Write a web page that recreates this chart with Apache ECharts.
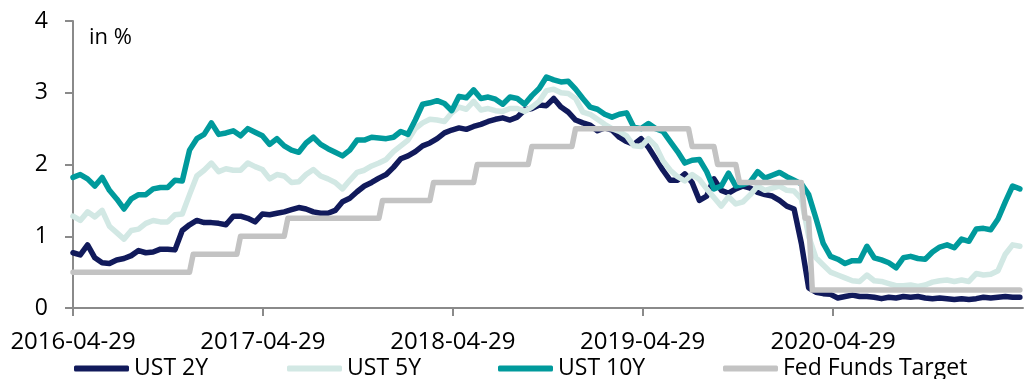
<!DOCTYPE html>
<html>
<head>
<meta charset="utf-8">
<script src="https://cdn.jsdelivr.net/npm/echarts@6/dist/echarts.min.js"></script>
<style>
  html, body { margin: 0; padding: 0; background: #fff; }
  #chart { width: 1025px; height: 379px; }
</style>
</head>
<body>
<div id="chart"></div>
<script>
// US Treasury yields (fortnightly, Fridays) and the Fed funds target upper bound, in %
const seriesNames = ['UST 2Y', 'UST 5Y', 'UST 10Y', 'Fed Funds Target'];
const tickLabels = ['2016-04-29', '2017-04-29', '2018-04-29', '2019-04-29', '2020-04-29'];
const firstDate = '2016-04-29';
const lastDate = '2021-04-29';

const ust2y = [
  0.77, 0.74, 0.88, 0.70, 0.63, 0.62, 0.67, 0.69, 0.73, 0.80,
  0.77, 0.78, 0.82, 0.82, 0.81, 1.08, 1.16, 1.22, 1.19, 1.19,
  1.18, 1.16, 1.28, 1.28, 1.25, 1.20, 1.31, 1.30, 1.32, 1.34,
  1.37, 1.40, 1.38, 1.34, 1.32, 1.32, 1.36, 1.48, 1.53, 1.62,
  1.70, 1.75, 1.81, 1.86, 1.96, 2.08, 2.12, 2.18, 2.26, 2.30,
  2.36, 2.44, 2.48, 2.51, 2.49, 2.53, 2.56, 2.60, 2.63, 2.65,
  2.62, 2.66, 2.76, 2.78, 2.83, 2.82, 2.92, 2.80, 2.73, 2.62,
  2.58, 2.55, 2.47, 2.51, 2.48, 2.38, 2.32, 2.28, 2.36, 2.24,
  2.08, 1.92, 1.78, 1.78, 1.87, 1.75, 1.50, 1.56, 1.80, 1.64,
  1.60, 1.66, 1.70, 1.67, 1.61, 1.58, 1.56, 1.50, 1.42, 1.38,
  0.90, 0.28, 0.22, 0.20, 0.19, 0.14, 0.16, 0.18, 0.16, 0.16,
  0.15, 0.13, 0.15, 0.14, 0.16, 0.15, 0.16, 0.14, 0.13, 0.14,
  0.13, 0.12, 0.13, 0.12, 0.13, 0.15, 0.14, 0.15, 0.16, 0.15,
  0.15
];

const ust5y = [
  1.28, 1.22, 1.34, 1.27, 1.36, 1.14, 1.05, 0.96, 1.08, 1.10,
  1.18, 1.22, 1.20, 1.20, 1.30, 1.31, 1.58, 1.84, 1.92, 2.02,
  1.90, 1.94, 1.92, 1.92, 2.02, 1.97, 1.93, 1.80, 1.86, 1.84,
  1.75, 1.76, 1.86, 1.93, 1.84, 1.80, 1.75, 1.66, 1.78, 1.89,
  1.92, 1.98, 2.02, 2.07, 2.18, 2.26, 2.34, 2.50, 2.58, 2.63,
  2.62, 2.60, 2.72, 2.80, 2.77, 2.88, 2.76, 2.78, 2.75, 2.74,
  2.78, 2.78, 2.74, 2.80, 2.88, 3.03, 3.05, 3.00, 2.99, 2.92,
  2.73, 2.70, 2.63, 2.56, 2.50, 2.46, 2.40, 2.26, 2.25, 2.36,
  2.26, 2.05, 1.92, 1.83, 1.77, 1.86, 1.79, 1.66, 1.54, 1.42,
  1.55, 1.45, 1.48, 1.58, 1.70, 1.64, 1.67, 1.70, 1.64, 1.63,
  1.52, 1.00, 0.70, 0.60, 0.50, 0.46, 0.42, 0.38, 0.37, 0.46,
  0.38, 0.37, 0.34, 0.31, 0.31, 0.32, 0.30, 0.32, 0.36, 0.38,
  0.39, 0.37, 0.39, 0.37, 0.48, 0.46, 0.47, 0.52, 0.75, 0.88,
  0.86
];

const ust10y = [
  1.82, 1.86, 1.80, 1.70, 1.82, 1.64, 1.52, 1.38, 1.52, 1.58,
  1.58, 1.66, 1.68, 1.68, 1.78, 1.77, 2.20, 2.36, 2.42, 2.58,
  2.42, 2.44, 2.47, 2.40, 2.50, 2.45, 2.40, 2.28, 2.36, 2.26,
  2.20, 2.17, 2.30, 2.38, 2.28, 2.22, 2.17, 2.12, 2.20, 2.34,
  2.34, 2.38, 2.37, 2.36, 2.38, 2.46, 2.42, 2.62, 2.84, 2.86,
  2.89, 2.85, 2.75, 2.95, 2.93, 3.04, 2.92, 2.94, 2.91, 2.84,
  2.94, 2.92, 2.84, 2.96, 3.06, 3.22, 3.18, 3.15, 3.16, 3.05,
  2.92, 2.80, 2.77, 2.70, 2.66, 2.70, 2.72, 2.52, 2.50, 2.57,
  2.50, 2.46, 2.32, 2.18, 2.02, 2.06, 2.07, 1.90, 1.66, 1.70,
  1.88, 1.70, 1.72, 1.76, 1.90, 1.81, 1.85, 1.89, 1.83, 1.78,
  1.73, 1.58, 1.25, 0.90, 0.72, 0.68, 0.62, 0.66, 0.66, 0.86,
  0.70, 0.67, 0.63, 0.56, 0.70, 0.72, 0.69, 0.68, 0.78, 0.85,
  0.88, 0.84, 0.96, 0.93, 1.10, 1.11, 1.09, 1.24, 1.48, 1.70,
  1.66
];

// Fed funds target (upper bound), weekly observations around each decision
const fedDates = [
  '2016-04-29', '2016-12-09', '2016-12-16', '2017-03-10', '2017-03-17',
  '2017-06-09', '2017-06-16', '2017-12-08', '2017-12-15', '2018-03-16',
  '2018-03-23', '2018-06-08', '2018-06-15', '2018-09-21', '2018-09-28',
  '2018-12-14', '2018-12-21', '2019-07-26', '2019-08-02', '2019-09-13',
  '2019-09-20', '2019-10-25', '2019-11-01', '2020-02-28', '2020-03-06',
  '2020-03-13', '2020-03-20', '2021-04-23'
];
const fedTarget = [
  0.50, 0.50, 0.75, 0.75, 1.00,
  1.00, 1.25, 1.25, 1.50, 1.50,
  1.75, 1.75, 2.00, 2.00, 2.25,
  2.25, 2.50, 2.50, 2.25, 2.25,
  2.00, 2.00, 1.75, 1.75, 1.25,
  1.25, 0.25, 0.25
];

const colors = ['#111a5b', '#d2e8e4', '#009a9c', '#c3c3c3'];
const FONT = '"Open Sans", "Liberation Sans", sans-serif';

// Dates are handled as local-midnight timestamps on a numeric axis
function toTime(s) {
  const p = s.split('-').map(Number);
  return new Date(p[0], p[1] - 1, p[2]).getTime();
}
function addDays(s, n) {
  const p = s.split('-').map(Number);
  const d = new Date(p[0], p[1] - 1, p[2] + n);
  return d.getFullYear() + '-' + pad(d.getMonth() + 1) + '-' + pad(d.getDate());
}
function pad(n) { return (n < 10 ? '0' : '') + n; }
function fmtDate(v) {
  const d = new Date(Math.round(v));
  return d.getFullYear() + '-' + pad(d.getMonth() + 1) + '-' + pad(d.getDate());
}

const yieldDates = ust2y.map((_, i) => addDays(firstDate, 14 * i));
const pairs = (dates, vals) => vals.map((v, i) => [toTime(dates[i]), v]);
const tickValues = tickLabels.map(toTime);

const lineSeries = (name, data, color) => ({
  name: name,
  type: 'line',
  data: data,
  showSymbol: false,
  symbol: 'none',
  color: color,
  lineStyle: { width: 5.5, color: color, join: 'round', cap: 'round' },
  emphasis: { disabled: true }
});

const legendLeft = [74, 287, 498, 723];

const chart = echarts.init(document.getElementById('chart'), null, { renderer: 'canvas' });
chart.setOption({
  animation: false,
  backgroundColor: '#ffffff',
  grid: { left: 73, right: 2, top: 21, bottom: 71, outerBoundsMode: 'none', containLabel: false },
  xAxis: {
    type: 'value',
    min: toTime(firstDate),
    max: toTime(lastDate),
    axisLine: { show: true, lineStyle: { color: '#8a8a8a', width: 2 } },
    axisTick: { show: true, inside: false, length: 8, customValues: tickValues, lineStyle: { color: '#8a8a8a', width: 2 } },
    axisLabel: {
      customValues: tickValues,
      formatter: fmtDate,
      fontFamily: FONT,
      fontSize: 24,
      color: '#000',
      margin: 22,
      hideOverlap: false
    },
    splitLine: { show: false }
  },
  yAxis: {
    type: 'value',
    min: 0,
    max: 4,
    interval: 1,
    axisLine: { show: true, lineStyle: { color: '#8a8a8a', width: 2 } },
    axisTick: { show: true, inside: false, length: 8, lineStyle: { color: '#8a8a8a', width: 2 } },
    axisLabel: { fontFamily: FONT, fontSize: 23, color: '#000', margin: 25, padding: [4, 0, 0, 0] },
    splitLine: { show: false }
  },
  legend: seriesNames.map((name, i) => ({
    data: [name],
    left: legendLeft[i],
    top: 357,
    icon: 'roundRect',
    itemWidth: 55,
    itemHeight: 6,
    selectedMode: false,
    padding: 0,
    textStyle: { fontFamily: FONT, fontSize: 23, color: '#000' }
  })),
  graphic: [{
    type: 'text',
    left: 89,
    top: 27,
    style: { text: 'in %', font: '22px ' + FONT, fill: '#000' }
  }],
  series: [
    lineSeries(seriesNames[0], pairs(yieldDates, ust2y), colors[0]),
    lineSeries(seriesNames[1], pairs(yieldDates, ust5y), colors[1]),
    lineSeries(seriesNames[2], pairs(yieldDates, ust10y), colors[2]),
    lineSeries(seriesNames[3], pairs(fedDates, fedTarget), colors[3])
  ]
});
</script>
</body>
</html>
